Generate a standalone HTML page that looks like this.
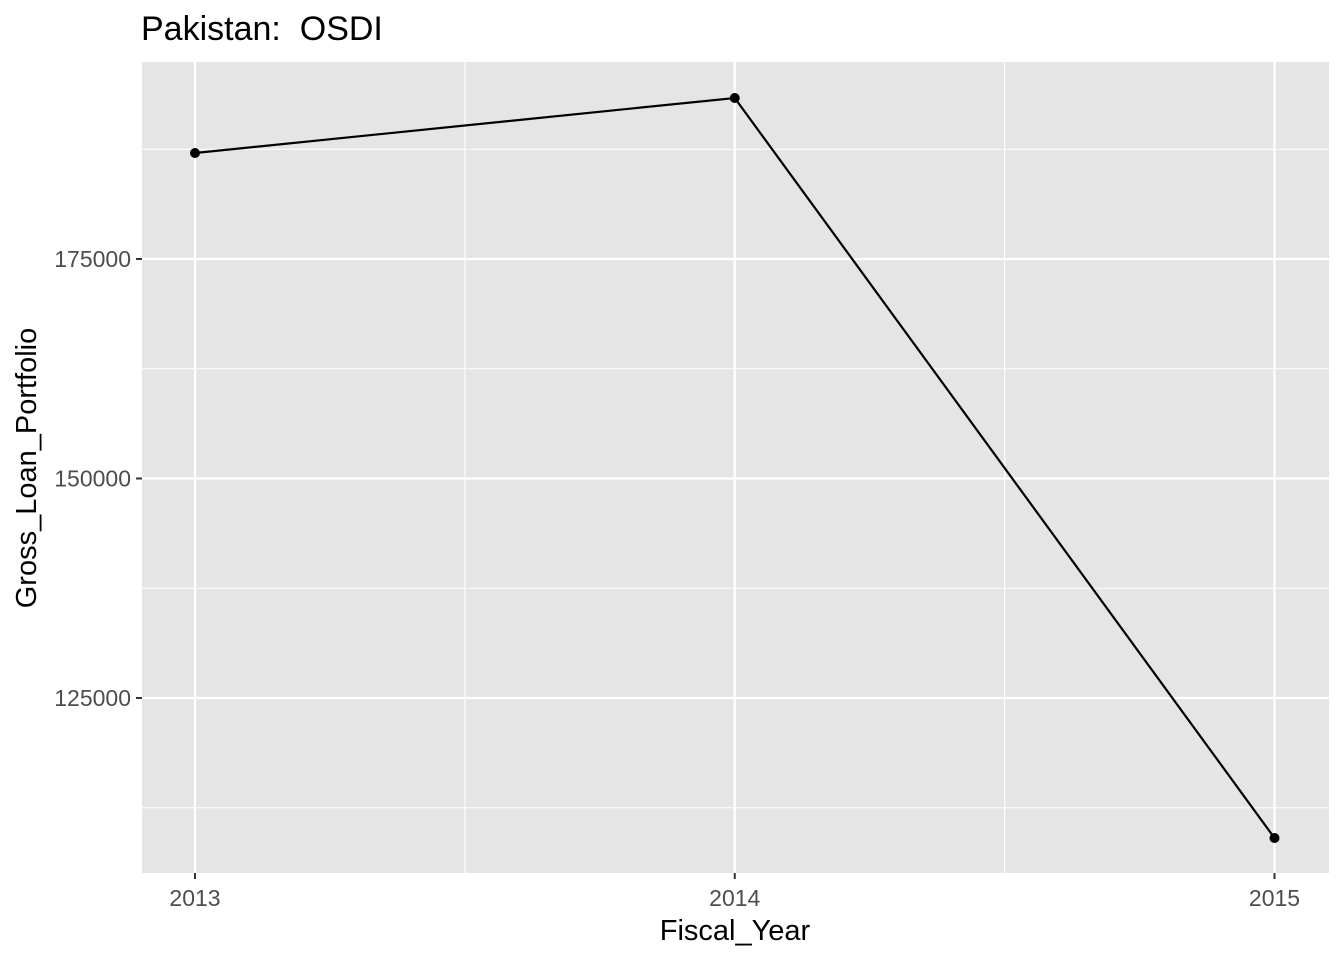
<!DOCTYPE html>
<html><head><meta charset="utf-8"><style>
body{margin:0;background:#fff;font-family:"Liberation Sans",Arial,sans-serif}
</style></head><body>
<svg width="1344" height="960" xmlns="http://www.w3.org/2000/svg">
<rect x="142" y="62" width="1187" height="811" fill="#e5e5e5"/>
<g id="grid"></g>
<g id="axes"></g>
<g id="marks"></g>
<text x="141" y="40" font-size="34" fill="#000" style="white-space:pre">Pakistan:  OSDI</text>
<text x="735" y="940" font-size="29" text-anchor="middle">Fiscal_Year</text>
<text transform="translate(36,468) rotate(-90)" font-size="29" text-anchor="middle">Gross_Loan_Portfolio</text>
</svg>
<script>
const years=[2013,2014,2015];
const values=[187073,193337,109055];
const yTicks=[125000,150000,175000];
const yMinor=[112500,137500,162500,187500];
const xMinor=[2013.5,2014.5];
const NS="http://www.w3.org/2000/svg";
function xs(v){return 195+(v-2013)*539.75;}
function ys(v){return 259-(v-175000)/25000*219.5;}
function mk(t,a,p){const e=document.createElementNS(NS,t);for(const k in a)e.setAttribute(k,a[k]);p.appendChild(e);return e;}
const grid=document.getElementById('grid'),axes=document.getElementById('axes'),marks=document.getElementById('marks');
yMinor.forEach(v=>{const l=mk('line',{x1:142,x2:1329,y1:ys(v),y2:ys(v),stroke:'#fff','stroke-width':1.1},grid);

});
xMinor.forEach(v=>{const l=mk('line',{x1:xs(v),x2:xs(v),y1:62,y2:873,stroke:'#fff','stroke-width':1.1},grid);

});
yTicks.forEach(v=>{const l=mk('line',{x1:142,x2:1329,y1:ys(v),y2:ys(v),stroke:'#fff','stroke-width':2.2},grid);


const t=mk('line',{x1:136,x2:142,y1:ys(v),y2:ys(v),stroke:'#333','stroke-width':2},axes);


const tx=mk('text',{x:131,y:ys(v)+8,'font-size':23,fill:'#4d4d4d','text-anchor':'end'},axes);tx.textContent=v;

});
years.forEach(v=>{const l=mk('line',{x1:xs(v),x2:xs(v),y1:62,y2:873,stroke:'#fff','stroke-width':2.2},grid);


const t=mk('line',{x1:xs(v),x2:xs(v),y1:873,y2:879,stroke:'#333','stroke-width':2},axes);


const tx=mk('text',{x:xs(v),y:906,'font-size':23,fill:'#4d4d4d','text-anchor':'middle'},axes);tx.textContent=v;

});
const pl=mk('polyline',{points:years.map((y,i)=>xs(y)+','+ys(values[i])).join(' '),fill:'none',stroke:'#000','stroke-width':2.2},marks);


years.forEach((y,i)=>{const c=mk('circle',{cx:xs(y),cy:ys(values[i]),r:5,fill:'#000'},marks);

});
</script>
</body></html>
